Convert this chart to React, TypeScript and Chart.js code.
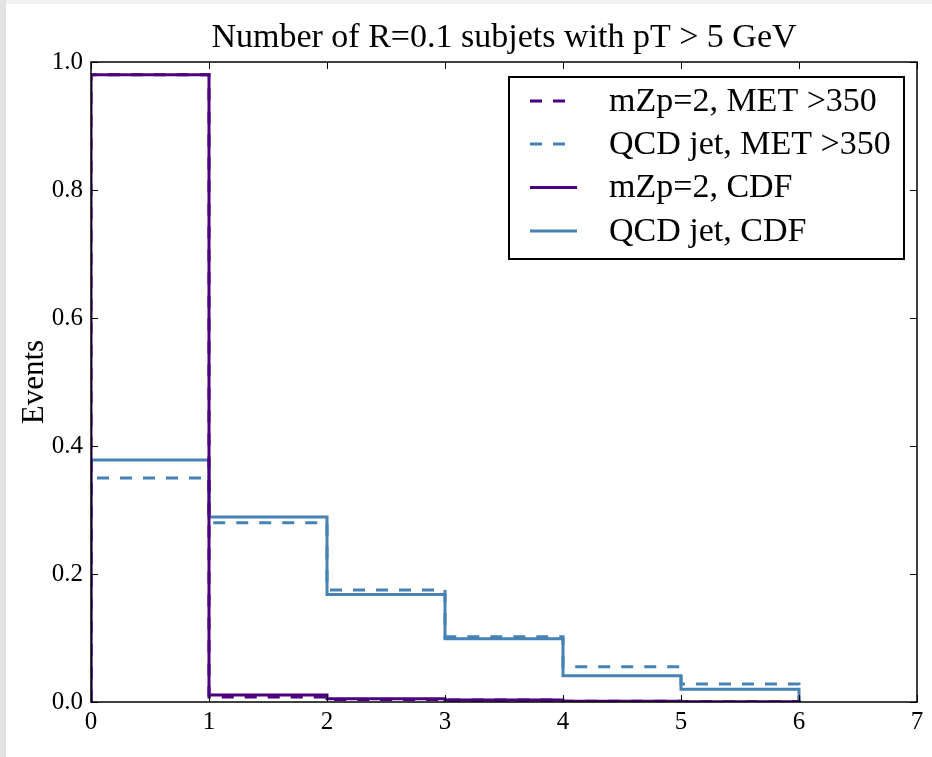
import React, { useEffect, useRef } from "react";
import { Chart, registerables } from "chart.js";

Chart.register(...registerables);

// ---- data ----
const binEdges = [0, 1, 2, 3, 4, 5, 6];
const sigMET = [0.98, 0.008, 0.004, 0.003, 0.001, 0.0005];
const qcdMET = [0.35, 0.28, 0.175, 0.102, 0.055, 0.028];
const sigCDF = [0.98, 0.011, 0.005, 0.003, 0.001, 0.0005];
const qcdCDF = [0.378, 0.289, 0.168, 0.099, 0.041, 0.02];
const seriesLabels = [
  "mZp=2, MET >350",
  "QCD jet, MET >350",
  "mZp=2, CDF",
  "QCD jet, CDF",
];
const titleText = "Number of R=0.1 subjets with pT > 5 GeV";
const yTitleText = "Events";
const xTickValues = [0, 1, 2, 3, 4, 5, 6, 7];
const yTickValues = [0, 0.2, 0.4, 0.6, 0.8, 1.0];

const PURPLE = "#4b0082";
const BLUE = "#4682b4";
const FONT = "'Liberation Serif', 'Times New Roman', serif";

function stepPoints(vals: number[]) {
  const n = vals.length;
  const pts: { x: number; y: number }[] = [{ x: binEdges[0], y: 0 }];
  vals.forEach((v, i) => pts.push({ x: binEdges[i], y: v }));
  pts.push({ x: binEdges[n], y: vals[n - 1] });
  pts.push({ x: binEdges[n], y: 0 });
  return pts;
}

const decorPlugin = {
  id: "decor",
  beforeDraw(chart: any) {
    const { ctx, width, height } = chart;
    ctx.save();
    ctx.fillStyle = "#ffffff";
    ctx.fillRect(0, 0, width, height);
    ctx.fillStyle = "#f1f1f1";
    ctx.fillRect(0, 0, width, 4);
    ctx.fillStyle = "#e2e2e2";
    ctx.fillRect(0, 0, 6, height);
    ctx.restore();
  },
  afterDatasetsDraw(chart: any) {
    const { ctx, chartArea } = chart;
    const { left, right, top, bottom } = chartArea;
    const xs = chart.scales.x;
    const ys = chart.scales.y;
    ctx.save();
    ctx.strokeStyle = "#000";
    ctx.lineWidth = 1;
    const tl = 7;
    ctx.beginPath();
    xTickValues.forEach((v) => {
      const px = Math.round(xs.getPixelForValue(v)) + 0.5;
      ctx.moveTo(px, bottom);
      ctx.lineTo(px, bottom - tl);
      ctx.moveTo(px, top);
      ctx.lineTo(px, top + tl);
    });
    yTickValues.forEach((v) => {
      const py = Math.round(ys.getPixelForValue(v)) + 0.5;
      ctx.moveTo(left, py);
      ctx.lineTo(left + tl, py);
      ctx.moveTo(right, py);
      ctx.lineTo(right - tl, py);
    });
    ctx.stroke();
    ctx.lineWidth = 1.5;
    ctx.strokeRect(left, top, right - left, bottom - top);
    ctx.restore();
  },
  afterDraw(chart: any) {
    const { ctx, chartArea } = chart;
    const { left, right, top, bottom } = chartArea;
    ctx.save();
    ctx.fillStyle = "#000";
    // title
    ctx.font = `34px ${FONT}`;
    ctx.textAlign = "center";
    ctx.textBaseline = "alphabetic";
    ctx.fillText(titleText, (left + right) / 2, top - 15);
    // y title
    ctx.save();
    ctx.translate(43, (top + bottom) / 2);
    ctx.rotate(-Math.PI / 2);
    ctx.font = `31px ${FONT}`;
    ctx.textAlign = "center";
    ctx.textBaseline = "alphabetic";
    ctx.fillText(yTitleText, 0, 0);
    ctx.restore();

    // legend
    const bx = 509, by = 77, bw = 395, bh = 182;
    ctx.fillStyle = "#fff";
    ctx.fillRect(bx, by, bw, bh);
    ctx.strokeStyle = "#000";
    ctx.lineWidth = 2;
    ctx.strokeRect(bx, by, bw, bh);
    const rowY = [101, 144, 187.5, 231];
    const legendOrder = [0, 1, 2, 3];
    legendOrder.forEach((di, r) => {
      const ds = chart.data.datasets[di];
      const dashed = ds.borderDash && ds.borderDash.length > 0;
      ctx.save();
      ctx.strokeStyle = ds.borderColor;
      ctx.lineWidth = ds.borderWidth;
      ctx.setLineDash(ds.borderDash || []);
      ctx.beginPath();
      ctx.moveTo(530, rowY[r]);
      ctx.lineTo(dashed ? 566 : 577, rowY[r]);
      ctx.stroke();
      ctx.restore();
      ctx.fillStyle = "#000";
      ctx.font = `34px ${FONT}`;
      ctx.textAlign = "left";
      ctx.textBaseline = "middle";
      ctx.fillText(ds.label, 609, rowY[r] + 1);
    });
    ctx.restore();
  },
};

export default function App() {
  const ref = useRef<HTMLCanvasElement | null>(null);
  useEffect(() => {
    if (!ref.current) return;
    const chart = new Chart(ref.current, {
      type: "line",
      data: {
        datasets: [
          {
            label: seriesLabels[0],
            data: stepPoints(sigMET),
            borderColor: PURPLE,
            borderWidth: 3,
            borderDash: [12, 11],
            stepped: "before",
            pointRadius: 0,
            fill: false,
            order: 1,
          },
          {
            label: seriesLabels[1],
            data: stepPoints(qcdMET),
            borderColor: BLUE,
            borderWidth: 3,
            borderDash: [12, 11],
            stepped: "before",
            pointRadius: 0,
            fill: false,
            order: 3,
          },
          {
            label: seriesLabels[2],
            data: stepPoints(sigCDF),
            borderColor: PURPLE,
            borderWidth: 3,
            stepped: "before",
            pointRadius: 0,
            fill: false,
            order: 0,
          },
          {
            label: seriesLabels[3],
            data: stepPoints(qcdCDF),
            borderColor: BLUE,
            borderWidth: 3,
            stepped: "before",
            pointRadius: 0,
            fill: false,
            order: 2,
          },
        ],
      },
      options: {
        responsive: false,
        animation: false,
        devicePixelRatio: 1,
        layout: { padding: { top: 62, right: 15, left: 0, bottom: 0 } },
        plugins: {
          legend: { display: false },
          tooltip: { enabled: false },
          title: { display: false },
        },
        scales: {
          x: {
            type: "linear",
            min: 0,
            max: 7,
            grid: { display: false, drawTicks: false },
            border: { display: false },
            afterFit: (s: any) => {
              s.height = 55;
            },
            afterBuildTicks: (s: any) => {
              s.ticks = xTickValues.map((v) => ({ value: v }));
            },
            ticks: {
              color: "#000",
              padding: 5,
              maxRotation: 0,
              autoSkip: false,
              font: { family: FONT, size: 25 },
              callback: (v: any) => String(v),
            },
          },
          y: {
            type: "linear",
            min: 0,
            max: 1,
            grid: { display: false, drawTicks: false },
            border: { display: false },
            afterFit: (s: any) => {
              s.width = 91;
            },
            afterBuildTicks: (s: any) => {
              s.ticks = yTickValues.map((v) => ({ value: v }));
            },
            ticks: {
              color: "#000",
              padding: 8,
              autoSkip: false,
              font: { family: FONT, size: 25 },
              callback: (v: any) => Number(v).toFixed(1),
            },
          },
        },
      },
      plugins: [decorPlugin],
    });
    return () => chart.destroy();
  }, []);
  return (
    <div style={{ position: "fixed", left: 0, top: 0, width: 932, height: 757 }}>
      <canvas ref={ref} width={932} height={757} style={{ display: "block" }} />
    </div>
  );
}
